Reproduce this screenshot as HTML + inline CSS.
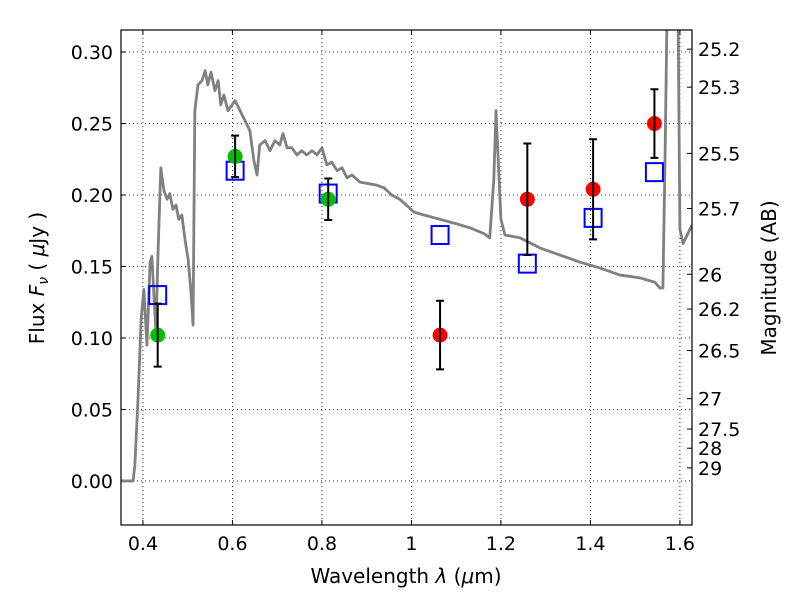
<!DOCTYPE html>
<html><head><meta charset="utf-8"><style>
body{margin:0;background:#fff}
svg text{font-family:"DejaVu Sans","Liberation Sans",sans-serif;fill:#000}
</style></head><body>
<svg id="c" width="800" height="600" xmlns="http://www.w3.org/2000/svg"></svg>
<script>
const specLam=[0.351,0.378,0.382,0.389,0.396,0.402,0.409,0.416,0.420,0.425,0.429,0.434,0.440,0.447,0.454,0.460,0.467,0.474,0.480,0.487,0.494,0.501,0.507,0.512,0.516,0.523,0.532,0.539,0.545,0.552,0.561,0.568,0.574,0.581,0.590,0.599,0.606,0.617,0.628,0.639,0.648,0.655,0.661,0.673,0.684,0.695,0.706,0.713,0.722,0.733,0.744,0.755,0.766,0.778,0.789,0.800,0.811,0.822,0.834,0.845,0.856,0.867,0.885,0.903,0.921,0.939,0.956,0.974,0.992,1.006,1.028,1.064,1.099,1.131,1.162,1.175,1.184,1.189,1.193,1.200,1.209,1.243,1.287,1.332,1.377,1.421,1.466,1.511,1.544,1.555,1.562,1.567,1.571,1.596,1.600,1.607,1.627];
const specFlux=[0,0,0.011,0.057,0.113,0.134,0.095,0.153,0.157,0.127,0.106,0.162,0.219,0.203,0.197,0.201,0.190,0.193,0.183,0.186,0.169,0.155,0.134,0.109,0.259,0.277,0.280,0.287,0.277,0.286,0.273,0.280,0.263,0.270,0.259,0.263,0.266,0.259,0.252,0.245,0.224,0.214,0.235,0.238,0.231,0.238,0.235,0.243,0.233,0.233,0.228,0.231,0.228,0.231,0.228,0.233,0.221,0.223,0.217,0.219,0.212,0.214,0.209,0.208,0.207,0.205,0.200,0.197,0.192,0.188,0.186,0.183,0.180,0.177,0.173,0.170,0.210,0.259,0.231,0.183,0.172,0.170,0.163,0.158,0.153,0.149,0.144,0.142,0.139,0.135,0.135,0.231,0.322,0.322,0.176,0.166,0.179];
const bandLam=[0.433,0.606,0.814,1.064,1.259,1.406,1.543];
const obsFlux=[0.102,0.227,0.197,0.102,0.197,0.204,0.250];
const obsErr=[0.022,0.0145,0.0145,0.024,0.039,0.035,0.024];
const modelFlux=[0.130,0.217,0.201,0.172,0.152,0.184,0.216];
const obsColor=['green','green','green','red','red','red','red'];
const xTicks=[0.4,0.6,0.8,1.0,1.2,1.4,1.6];
const xTickLabels=['0.4','0.6','0.8','1','1.2','1.4','1.6'];
const yTicks=[0,0.05,0.10,0.15,0.20,0.25,0.30];
const magTicks=[25.2,25.3,25.5,25.7,26,26.2,26.5,27,27.5,28,29];

const L=121,R=692,T=30,B=525,x0=0.351,x1=1.627,y0=-0.0308,y1=0.3154;
const sx=v=>L+(v-x0)/(x1-x0)*(R-L);
const sy=v=>B-(v-y0)/(y1-y0)*(B-T);
const svg=document.getElementById('c');const NS='http://www.w3.org/2000/svg';
function mk(t,a,p){const e=document.createElementNS(NS,t);for(const k in a)e.setAttribute(k,a[k]);(p||svg).appendChild(e);return e;}
const defs=mk('defs',{});const cp=mk('clipPath',{id:'cp'},defs);mk('rect',{x:L,y:T,width:R-L,height:B-T},cp);
xTicks.forEach((v,i)=>{const g=mk('line',{x1:sx(v),x2:sx(v),y1:T,y2:B,stroke:'#000','stroke-width':0.8,'stroke-dasharray':'1,3'});

mk('line',{x1:sx(v),x2:sx(v),y1:B,y2:B-5,stroke:'#000'});mk('line',{x1:sx(v),x2:sx(v),y1:T,y2:T+5,stroke:'#000'});
const l=mk('text',{x:sx(v),y:B+25,'font-size':19,'text-anchor':'middle'});l.textContent=xTickLabels[i];
});
yTicks.forEach(v=>{const g=mk('line',{x1:L,x2:R,y1:sy(v),y2:sy(v),stroke:'#000','stroke-width':0.8,'stroke-dasharray':'1,3'});

mk('line',{x1:L,x2:L+5,y1:sy(v),y2:sy(v),stroke:'#000'});
const l=mk('text',{x:L-8,y:sy(v)+7,'font-size':19,'text-anchor':'end'});l.textContent=v.toFixed(2);
});
magTicks.forEach(m=>{const f=Math.pow(10,(23.9-m)/2.5);const y=sy(f);
mk('line',{x1:R-5,x2:R,y1:y,y2:y,stroke:'#000'});
const l=mk('text',{x:R+6,y:y+7,'font-size':19});l.textContent=String(m);
});
const pl=mk('polyline',{points:specLam.map((v,i)=>sx(v)+','+sy(specFlux[i])).join(' '),fill:'none',stroke:'#808080','stroke-width':2.8,'stroke-linejoin':'round','clip-path':'url(#cp)'});

bandLam.forEach((v,i)=>{const r=mk('rect',{x:sx(v)-8.5,y:sy(modelFlux[i])-9,width:17,height:18,fill:'none',stroke:'#0000ff','stroke-width':2});
});
bandLam.forEach((v,i)=>{const c=mk('circle',{cx:sx(v),cy:sy(obsFlux[i]),r:7.5,fill:obsColor[i]=='green'?'#00c000':'#ff0000'});

const x=sx(v),ya=sy(obsFlux[i]+obsErr[i]),yb=sy(obsFlux[i]-obsErr[i]);
const e=mk('path',{d:`M${x},${ya}V${yb}M${x-4},${ya}H${x+4}M${x-4},${yb}H${x+4}`,stroke:'#000','stroke-width':2,fill:'none'});
});
const fr=mk('rect',{x:L,y:T,width:R-L,height:B-T,fill:'none',stroke:'#000','stroke-width':1.2});

</script>
<div style="position:absolute;left:0;top:0;width:800px;height:600px;pointer-events:none">
<svg width="800" height="600" style="position:absolute;left:0;top:0">
<text x="406" y="583" font-size="20" text-anchor="middle">Wavelength  <tspan font-style="italic">λ</tspan> (<tspan font-style="italic">μ</tspan>m)</text>
<text transform="translate(44,278) rotate(-90)" font-size="20" text-anchor="middle">Flux  <tspan font-style="italic">F<tspan font-size="14" dy="4">ν</tspan></tspan><tspan dy="-4">  ( </tspan><tspan font-style="italic">μ</tspan>Jy )</text>
<text transform="translate(776,278) rotate(-90)" font-size="20" text-anchor="middle">Magnitude (AB)</text>
</svg></div>
</body></html>
